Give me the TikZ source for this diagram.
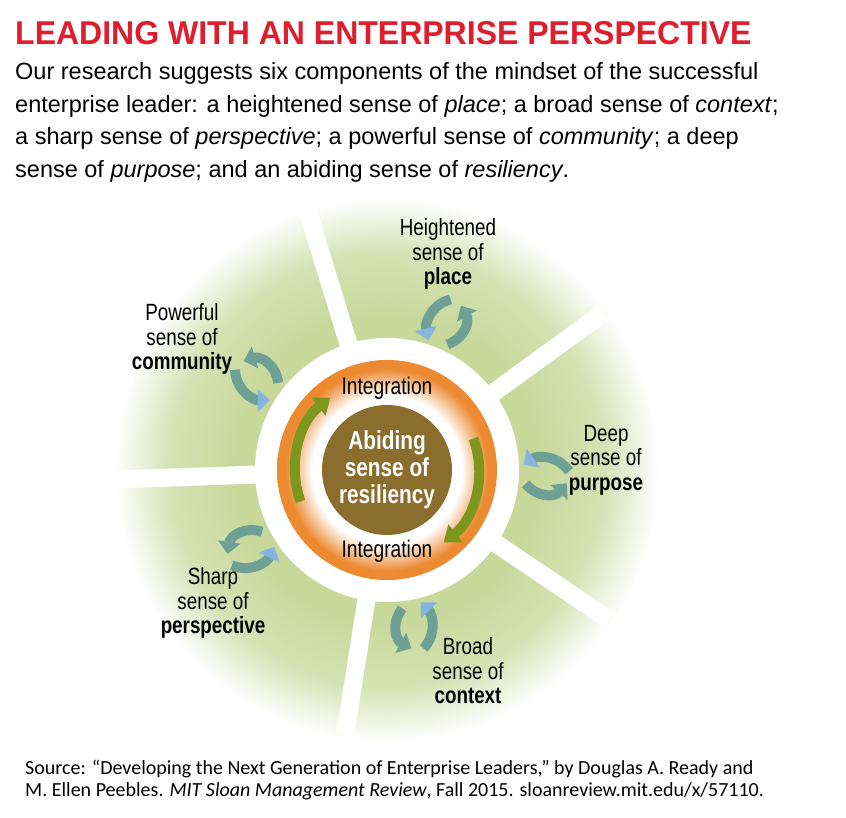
\documentclass[tikz,border=0pt]{standalone}
\usepackage{fontspec}
\setmainfont{Liberation Sans}
\newfontfamily\condf[FakeStretch=0.8]{Liberation Sans}
\newfontfamily\titlef[FakeStretch=0.97]{Liberation Sans}
\newfontfamily\srcf{Carlito}
\usetikzlibrary{arrows.meta}
\definecolor{titlered}{RGB}{222,30,45}
\definecolor{leaf}{RGB}{200,216,155}
\definecolor{ringor}{RGB}{236,138,50}
\definecolor{brownc}{RGB}{139,110,45}
\definecolor{olive}{RGB}{125,150,30}
\definecolor{tealc}{RGB}{110,160,150}
\definecolor{bluec}{RGB}{135,180,222}
\pgfdeclareradialshading{diskshade}{\pgfpoint{0bp}{0bp}}{color(0bp)=(leaf);color(14bp)=(leaf);color(20bp)=(leaf!75);color(25bp)=(white);color(50bp)=(white)}
\pgfdeclareradialshading{ringshade}{\pgfpoint{0bp}{0bp}}{color(0bp)=(white);color(17bp)=(white);color(23bp)=(ringor);color(25bp)=(ringor);color(50bp)=(ringor)}
\tikzset{
  lbl/.style={font=\condf\fontsize{23.5}{24.5}\selectfont, align=center, text=black},
  spoke/.style={white, line width=18pt},
  inarr/.style={tealc, line width=10pt, -{Triangle[width=22pt,length=12pt,color=bluec]}},
  outarr/.style={tealc, line width=10pt, -{Triangle[width=22pt,length=12pt]}},
  bodyt/.style={anchor=base west, inner sep=0, font=\fontsize{23.5}{26}\selectfont},
}
\newcommand{\arrpair}[1]{%
  \begin{scope}[shift={(c)}, rotate=#1, shift={(132,0)}]
    \draw[inarr] (50,-5) .. controls (38,-21) and (18,-20) .. (4,-10);
    \draw[outarr] (7,9) .. controls (20,23) and (37,21) .. (48,7);
  \end{scope}}
\begin{document}
\begin{tikzpicture}[x=1pt,y=-1pt]
\useasboundingbox (0,0) rectangle (846,818);
\coordinate (c) at (387,470);
% titles
\node[anchor=base west, inner sep=0, text=titlered, font=\titlef\bfseries\fontsize{33}{36}\selectfont] (title) at (15,45) {LEADING WITH AN ENTERPRISE PERSPECTIVE};
\node[bodyt] (b1) at (15,80) {Our research suggests six components of the mindset of the successful};
\node[bodyt] (b2) at (15,113) {enterprise leader: a heightened sense of \textit{place}; a broad sense of \textit{context};};
\node[bodyt] (b3) at (15,145) {a sharp sense of \textit{perspective}; a powerful sense of \textit{community}; a deep};
\node[bodyt] (b4) at (15,178) {sense of \textit{purpose}; and an abiding sense of \textit{resiliency}.};
% disc
\shade[shading=diskshade] (c) circle (272);
\begin{scope}
\clip (c) circle (268);
\foreach \a in {-107,-36,34,99,-182} \draw[spoke] (c) -- ++(\a:300);
\end{scope}
\fill[white] (c) circle (132);
\shade[shading=ringshade] (c) circle (110);
% inner green arrows
\draw[olive, line width=10pt, -{Triangle[width=22pt,length=15pt]}] (c) ++(160:92) arc (160:232:92);
\draw[olive, line width=10pt, -{Triangle[width=22pt,length=15pt]}] (c) ++(-20:92) arc (-20:52:92);
\node[circle, fill=brownc, minimum size=130pt, inner sep=0, text=white, align=center, font=\condf\bfseries\fontsize{26}{27}\selectfont] (core) at (c) {Abiding\\sense of\\resiliency};
\node[font=\condf\fontsize{24}{26}\selectfont] (int1) at (387,388) {Integration};
\node[font=\condf\fontsize{24}{26}\selectfont] (int2) at (387,551) {Integration};
% arrow pairs
\arrpair{-80}
\arrpair{-150}
\arrpair{-2}
\arrpair{145}
\arrpair{68}
% labels
\node[lbl] (place) at (448,254) {Heightened\\sense of\\\textbf{place}};
\node[lbl] (comm) at (182,339) {Powerful\\sense of\\\textbf{community}};
\node[lbl] (purp) at (606,460) {Deep\\sense of\\\textbf{purpose}};
\node[lbl] (persp) at (213,603) {Sharp\\sense of\\\textbf{perspective}};
\node[lbl] (ctx) at (468,671) {Broad\\sense of\\\textbf{context}};
% source
\node[anchor=base west, inner sep=0, font=\srcf\fontsize{20}{22}\selectfont] (s1) at (25,774) {Source: “Developing the Next Generation of Enterprise Leaders,” by Douglas A. Ready and};
\node[anchor=base west, inner sep=0, font=\srcf\fontsize{20}{22}\selectfont] (s2) at (25,796) {M. Ellen Peebles. \textit{MIT Sloan Management Review}, Fall 2015. sloanreview.mit.edu/x/57110.};
\end{tikzpicture}
\end{document}
